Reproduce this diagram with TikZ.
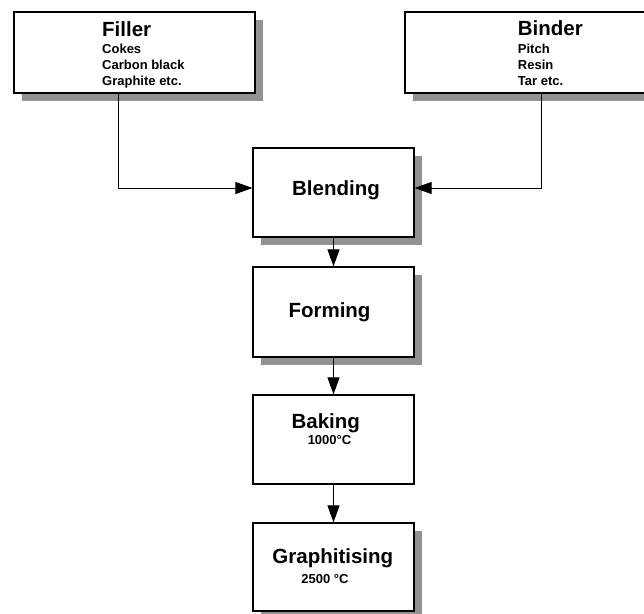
\documentclass[tikz,border=0pt]{standalone}
\usepackage{fontspec}
\setmainfont{Liberation Sans}
\usetikzlibrary{shadows,arrows.meta}
\definecolor{shgray}{RGB}{146,146,146}
\begin{document}
\begin{tikzpicture}[x=1pt,y=-1pt,
  box/.style={draw=black,fill=white,line width=1.1pt,inner sep=0pt,rectangle},
  shadowed/.style={general shadow={fill=shgray,shadow xshift=8pt,shadow yshift=-8pt}},
  title/.style={font=\bfseries\fontsize{20.5}{23}\selectfont,inner sep=0pt},
  small/.style={font=\bfseries\fontsize{13}{15}\selectfont,inner sep=0pt},
  arr/.style={line width=0.95pt,-{Triangle[length=17pt,width=12pt]}}]
\useasboundingbox (0,0) rectangle (644,613);
\begin{scope}
\clip (0,0) rectangle (644,613);
% boxes
\node[box,shadowed,minimum width=241pt,minimum height=81pt] (filler) at (134.5,52.5) {};
\node[box,shadowed,minimum width=241pt,minimum height=81pt] (binder) at (525.5,52.5) {};
\node[box,shadowed,minimum width=161pt,minimum height=89pt] (blending) at (333.5,192.5) {};
\node[box,shadowed,minimum width=161pt,minimum height=90pt] (forming) at (333.5,312) {};
\node[box,minimum width=161pt,minimum height=89pt] (baking) at (333.5,439.5) {};
\node[box,shadowed,minimum width=161pt,minimum height=88pt] (graph) at (333.5,567) {};
\end{scope}
% texts
\node[title,anchor=base west] (tfiller) at (102,36) {Filler};
\node[small,anchor=base west] (t1) at (102,53.3) {Cokes};
\node[small,anchor=base west] (t2) at (102,69.3) {Carbon black};
\node[small,anchor=base west] (t3) at (102,85) {Graphite etc.};
\node[title,anchor=base west] (tbinder) at (517.7,35.7) {Binder};
\node[small,anchor=base west] (b1) at (517.7,53.3) {Pitch};
\node[small,anchor=base west] (b2) at (517.7,69.3) {Resin};
\node[small,anchor=base west] (b3) at (517.7,85) {Tar etc.};
\node[title,anchor=base] (tblend) at (336,195) {Blending};
\node[title,anchor=base] (tform) at (329.5,317) {Forming};
\node[title,anchor=base] (tbake) at (325.8,428.5) {Baking};
\node[small,anchor=base] (tbaket) at (329.5,444.3) {1000°C};
\node[title,anchor=base] (tgraph) at (332.8,563.3) {Graphitising};
\node[small,anchor=base] (tgrapht) at (325,583.3) {2500 °C};
% connectors
\coordinate (fj) at (118,188);
\coordinate (bj) at (541,188);
\draw[arr] (filler.south -| fj) -- (fj) -- (fj -| blending.west);
\draw[arr] (binder.south -| bj) -- (bj) -- (bj -| blending.east);
\draw[arr] (blending.south) -- (forming.north);
\draw[arr] (forming.south) -- (baking.north);
\draw[arr] (baking.south) -- (graph.north);
\end{tikzpicture}
\end{document}
